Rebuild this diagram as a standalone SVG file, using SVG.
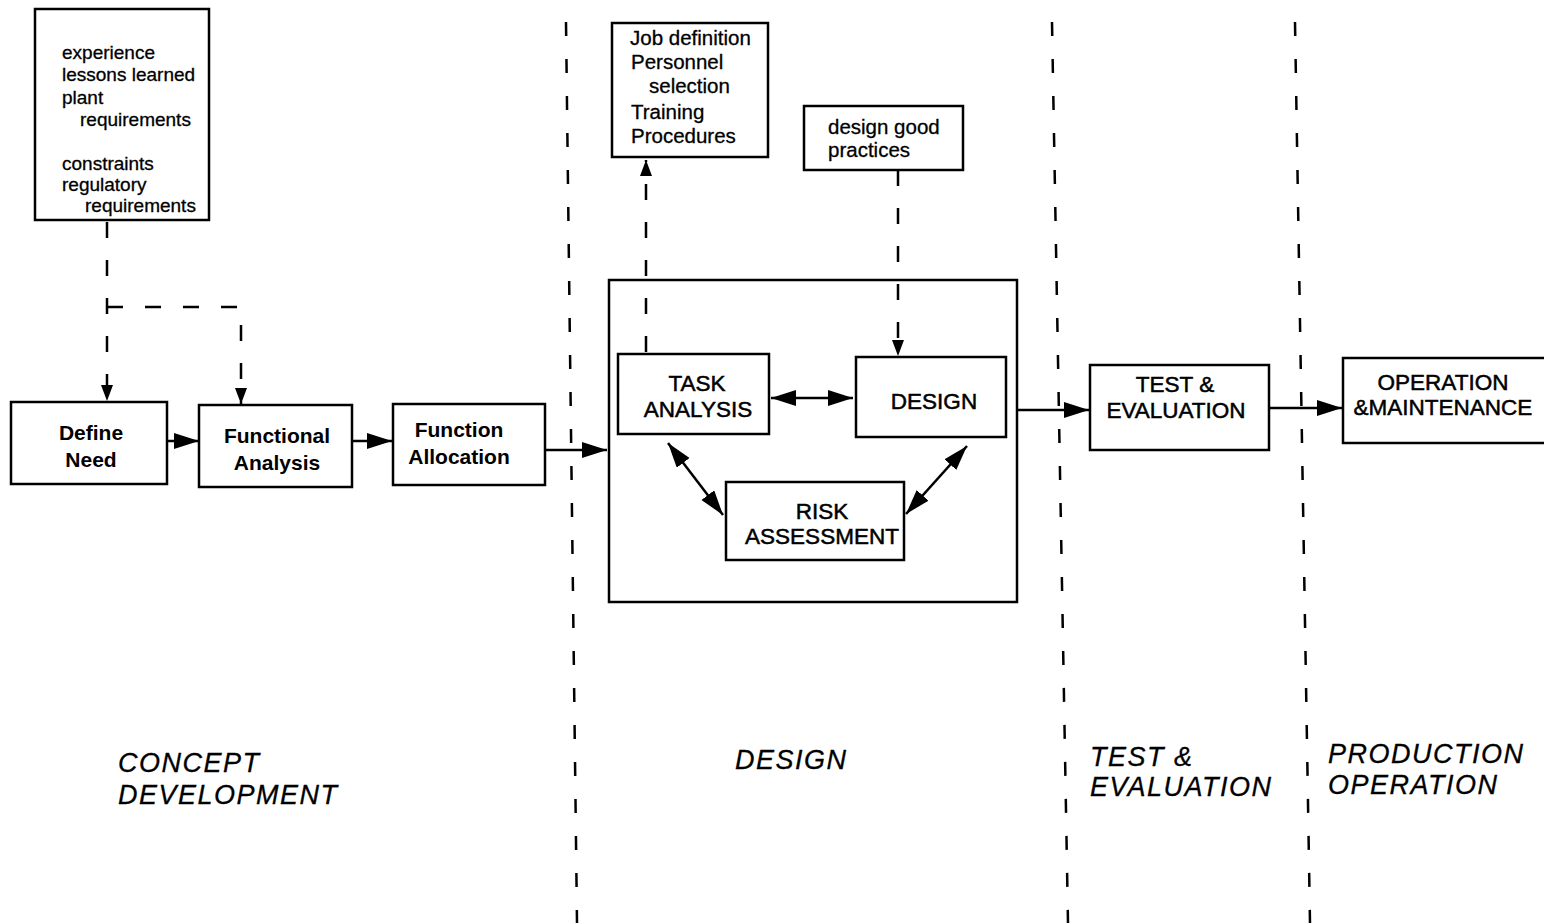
<svg xmlns="http://www.w3.org/2000/svg" width="1544" height="923" viewBox="0 0 1544 923">
<style>
.box{fill:#fff;stroke:#000;stroke-width:2.5}
.frame{fill:none;stroke:#000;stroke-width:2.5}
.t{font-family:"Liberation Sans",Arial,sans-serif;fill:#000}
.sm{font-size:19px;stroke:#000;stroke-width:0.3}
.md{font-size:20.5px;stroke:#000;stroke-width:0.3}
.bd{font-size:21px;font-weight:bold}
.cap{font-size:22.5px;stroke:#000;stroke-width:0.5}
.ph{font-size:27px;font-style:italic;letter-spacing:1.5px;stroke:#000;stroke-width:0.3}
.c{stroke:#000;stroke-width:2.5;fill:none}
.d{stroke:#000;stroke-width:2.5;fill:none;stroke-dasharray:16 22}
.sep{stroke:#000;stroke-width:2.5;fill:none;stroke-dasharray:14 23}
</style>
<defs>
<marker id="ah" markerUnits="userSpaceOnUse" markerWidth="28" markerHeight="18" refX="25" refY="8" orient="auto-start-reverse">
<path d="M0,0 L25,8 L0,16 z" fill="#000"/>
</marker>
<marker id="as" markerUnits="userSpaceOnUse" markerWidth="18" markerHeight="14" refX="16" refY="6" orient="auto-start-reverse">
<path d="M0,0 L16,6 L0,12 z" fill="#000"/>
</marker>
</defs>

<g id="separators">
<line class="sep" x1="566" y1="22" x2="577" y2="923"/>
<line class="sep" x1="1052" y1="22" x2="1068" y2="923"/>
<line class="sep" x1="1295" y1="22" x2="1310" y2="923"/>
</g>

<g id="inputs">
<rect class="box" x="35" y="9" width="174" height="211"/>
<text class="t sm" x="62" y="59">experience</text>
<text class="t sm" x="62" y="81">lessons learned</text>
<text class="t sm" x="62" y="104">plant</text>
<text class="t sm" x="80" y="126">requirements</text>
<text class="t sm" x="62" y="170">constraints</text>
<text class="t sm" x="62" y="191">regulatory</text>
<text class="t sm" x="85" y="212">requirements</text>
</g>

<g id="define-need">
<rect class="box" x="11" y="402" width="156" height="82"/>
<text class="t bd" x="91" y="440" text-anchor="middle">Define</text>
<text class="t bd" x="91" y="467" text-anchor="middle">Need</text>
</g>

<g id="functional-analysis">
<rect class="box" x="199" y="405" width="153" height="82"/>
<text class="t bd" x="277" y="443" text-anchor="middle">Functional</text>
<text class="t bd" x="277" y="470" text-anchor="middle">Analysis</text>
</g>

<g id="function-allocation">
<rect class="box" x="393" y="404" width="152" height="81"/>
<text class="t bd" x="459" y="437" text-anchor="middle">Function</text>
<text class="t bd" x="459" y="464" text-anchor="middle">Allocation</text>
</g>

<g id="design-phase-box">
<rect class="frame" x="609" y="280" width="408" height="322"/>
</g>

<g id="job-definition">
<rect class="box" x="612" y="23" width="156" height="134"/>
<text class="t md" x="630" y="45">Job definition</text>
<text class="t md" x="631" y="69">Personnel</text>
<text class="t md" x="649" y="93">selection</text>
<text class="t md" x="631" y="119">Training</text>
<text class="t md" x="631" y="143">Procedures</text>
</g>

<g id="design-good-practices">
<rect class="box" x="804" y="106" width="159" height="64"/>
<text class="t md" x="828" y="134">design good</text>
<text class="t md" x="828" y="157">practices</text>
</g>

<g id="task-analysis">
<rect class="box" x="618" y="354" width="151" height="80"/>
<text class="t cap" x="697" y="391" text-anchor="middle">TASK</text>
<text class="t cap" x="698" y="417" text-anchor="middle">ANALYSIS</text>
</g>

<g id="design">
<rect class="box" x="856" y="357" width="150" height="80"/>
<text class="t cap" x="934" y="409" text-anchor="middle">DESIGN</text>
</g>

<g id="risk-assessment">
<rect class="box" x="726" y="482" width="178" height="78"/>
<text class="t cap" x="822" y="519" text-anchor="middle">RISK</text>
<text class="t cap" x="822" y="544" text-anchor="middle">ASSESSMENT</text>
</g>

<g id="test-evaluation">
<rect class="box" x="1090" y="365" width="179" height="85"/>
<text class="t cap" x="1175" y="392" text-anchor="middle">TEST &amp;</text>
<text class="t cap" x="1176" y="418" text-anchor="middle">EVALUATION</text>
</g>

<g id="operation-maintenance">
<rect class="box" x="1343" y="358" width="203" height="85"/>
<text class="t cap" x="1443" y="390" text-anchor="middle">OPERATION</text>
<text class="t cap" x="1443" y="415" text-anchor="middle">&amp;MAINTENANCE</text>
</g>

<g id="connectors">
<line class="c" x1="167" y1="441" x2="199" y2="441" marker-end="url(#ah)"/>
<line class="c" x1="352" y1="441" x2="392" y2="441" marker-end="url(#ah)"/>
<line class="c" x1="545" y1="450" x2="607" y2="450" marker-end="url(#ah)"/>
<line class="c" x1="1017" y1="410" x2="1089" y2="410" marker-end="url(#ah)"/>
<line class="c" x1="1269" y1="408" x2="1342" y2="408" marker-end="url(#ah)"/>
<line class="c" x1="771" y1="398" x2="853" y2="398" marker-start="url(#ah)" marker-end="url(#ah)"/>
<line class="c" x1="668" y1="443" x2="723" y2="515" marker-start="url(#ah)" marker-end="url(#ah)"/>
<line class="c" x1="967" y1="446" x2="906" y2="514" marker-start="url(#ah)" marker-end="url(#ah)"/>
<line class="d" x1="646" y1="352" x2="646" y2="160" marker-end="url(#as)"/>
<line class="d" x1="898" y1="170" x2="898" y2="356" marker-end="url(#as)"/>
<line class="d" x1="107" y1="222" x2="107" y2="401" marker-end="url(#as)"/>
<path class="d" d="M107,307 H241 V404" marker-end="url(#as)"/>
</g>

<g id="phase-labels">
<text class="t ph" x="118" y="772">CONCEPT</text>
<text class="t ph" x="118" y="804">DEVELOPMENT</text>
<text class="t ph" x="735" y="769">DESIGN</text>
<text class="t ph" x="1090" y="766">TEST &amp;</text>
<text class="t ph" x="1090" y="796">EVALUATION</text>
<text class="t ph" x="1328" y="763">PRODUCTION</text>
<text class="t ph" x="1328" y="794">OPERATION</text>
</g>
</svg>
